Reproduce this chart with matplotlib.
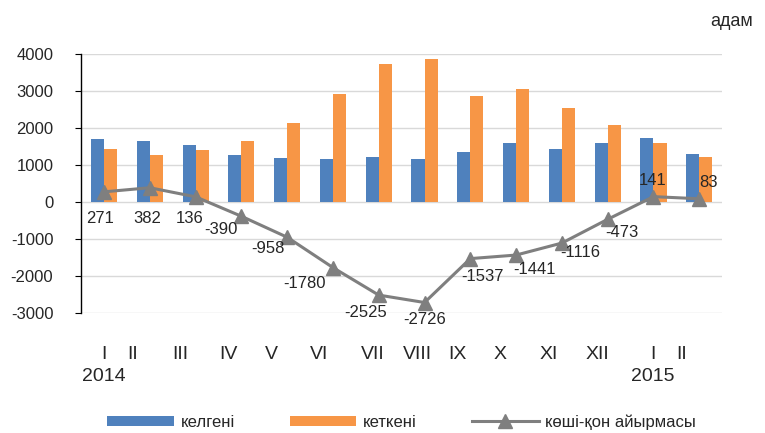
"""
plot.py

Migration chart: arrivals, departures and net migration by month, 2014-2015.
"""

import matplotlib
matplotlib.use("Agg")

import matplotlib.pyplot as plt
import numpy as np

plt.rcParams["font.family"] = ["Liberation Sans", "DejaVu Sans"]
plt.rcParams["font.size"] = 12
plt.rcParams["axes.unicode_minus"] = False

COLOR_IN = "#4F81BD"
COLOR_OUT = "#F79646"
COLOR_NET = "#7F7F7F"
TEXT = "#262626"

months = ["I", "II", "III", "IV", "V", "VI", "VII", "VIII", "IX", "X", "XI", "XII", "I", "II"]
tick_labels = ["I\n2014", "II", "III", "IV", "V", "VI", "VII", "VIII", "IX", "X", "XI", "XII", "I\n2015", "II"]
arrived = [1690, 1638, 1540, 1262, 1180, 1150, 1210, 1150, 1340, 1605, 1420, 1600, 1740, 1285]
departed = [1419, 1256, 1404, 1652, 2138, 2930, 3735, 3876, 2877, 3046, 2536, 2073, 1599, 1202]
net = [271, 382, 136, -390, -958, -1780, -2525, -2726, -1537, -1441, -1116, -473, 141, 83]

# label positions (Excel spaced the month names unevenly)
tick_pos = [0, 0.63, 1.66, 2.71, 3.65, 4.70, 5.86, 6.84, 7.72, 8.66, 9.71, 10.78, 11.98, 12.62]
# data label offsets in pixels (dx, dy)
label_offsets = [(-4, -27), (-3, -31), (-6, -22), (-20, -13), (-19, -11), (-28, -16), (-13, -17),
                 (0, -17), (12, -18), (18, -14), (18, -9), (14, -13), (-1, 16), (9, 16)]

fig = plt.figure(figsize=(7.65, 4.33), dpi=100)
ax = fig.add_axes([0.106, 0.278, 0.838, 0.597])

x = np.arange(len(months))
w = 0.285
b1 = ax.bar(x - w / 2, arrived, width=w, color=COLOR_IN, label="келгені", zorder=2)
b2 = ax.bar(x + w / 2, departed, width=w, color=COLOR_OUT, label="кеткені", zorder=2)
(ln,) = ax.plot(x, net, color=COLOR_NET, linewidth=2.2, marker="^", markersize=10,
                label="көші-қон айырмасы", zorder=3)

for xi, v, (dx, dy) in zip(x, net, label_offsets):
    ax.annotate(str(v), (xi, v), xytext=(dx, dy), textcoords="offset pixels",
                ha="center", va="center", color=TEXT, zorder=4)

ax.set_xlim(-0.5, 13.5)
ax.set_ylim(-3000, 4000)
ax.set_yticks(range(-3000, 4001, 1000))
ax.yaxis.grid(True, color="#D9D9D9", linewidth=1.0, zorder=0)
ax.set_axisbelow(True)
for side in ("top", "right", "bottom"):
    ax.spines[side].set_visible(False)
ax.spines["left"].set_color("black")
ax.spines["left"].set_linewidth(1.0)
ax.tick_params(axis="y", length=4, pad=16, labelcolor=TEXT)

ax.set_xticks(tick_pos)
ax.set_xticklabels(tick_labels, color=TEXT, fontsize=14, linespacing=1.4)
ax.tick_params(axis="x", length=0, pad=24)

fig.text(0.984, 0.951, "адам", ha="right", va="center", fontsize=13, color=TEXT)

fig.legend(handles=[b1, b2, ln], loc="center", bbox_to_anchor=(0.525, 0.025), ncol=3,
           frameon=False, handlelength=4.0, handleheight=0.55, handletextpad=0.4,
           columnspacing=3.3, labelcolor=TEXT)

fig.savefig("out.png", dpi=100)
